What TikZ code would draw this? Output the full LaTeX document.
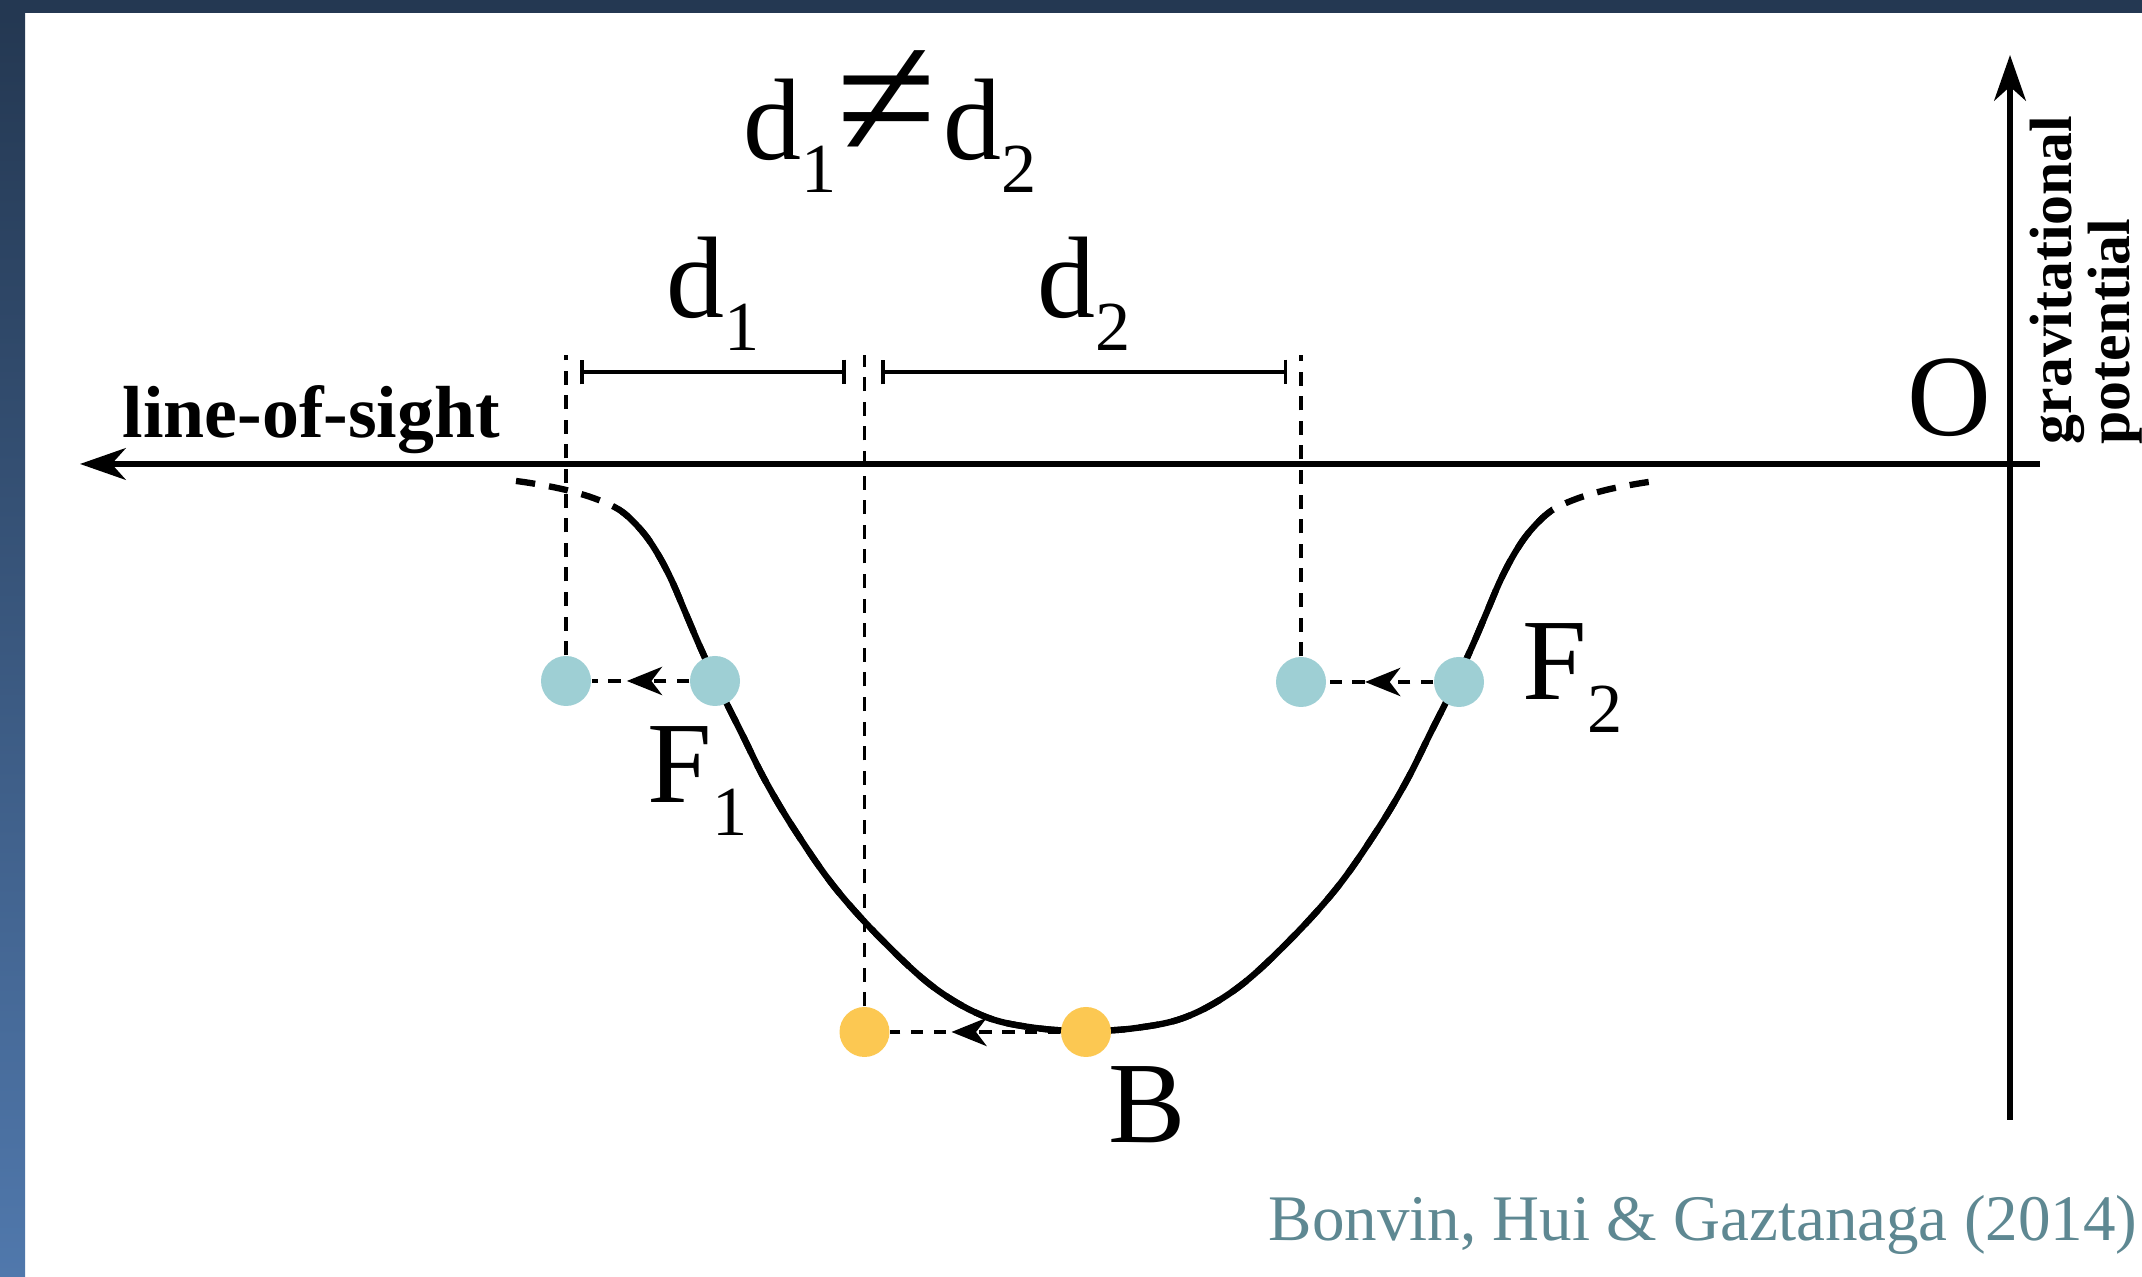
\documentclass[tikz,border=0pt]{standalone}
\usepackage{fontspec}
\setmainfont{Liberation Serif}
\usetikzlibrary{arrows.meta, positioning, decorations.markings}
\definecolor{wellteal}{HTML}{9ECFD4}
\definecolor{wellgold}{HTML}{FCC852}
\definecolor{citeteal}{HTML}{5E8892}
\definecolor{slidenavy}{HTML}{243852}
\definecolor{slideblue}{HTML}{5078AC}
\newcommand{\idx}[1]{\raisebox{-0.28em}{\fontsize{20}{20}\selectfont #1}}

\begin{document}
\begin{tikzpicture}[>=Stealth, font=\fontsize{33}{36}\selectfont,
    axis/.style={line width=1.7pt, -{Stealth[length=13pt, width=9pt, inset=4pt]}},
    well/.style={line width=1.8pt},
    ball/.style={circle, fill=#1, minimum size=0.5cm, inner sep=0pt},
    proj/.style={line width=1.1pt, dash pattern=on 4pt off 3pt},
    bar/.style={line width=1pt, {Bar[width=7pt]}-{Bar[width=7pt]}},
    drift/.style={line width=1.3pt, dash pattern=on 3.5pt off 3pt,
        postaction={decorate}, decoration={markings,
        mark=at position 0.64 with {\arrow{Stealth[length=10pt, width=8pt, inset=3pt]}}}}]
    \useasboundingbox (0,0) rectangle (21.42,12.77);
    \fill[white] (0,0) rectangle (21.42,12.77);
    \fill[slidenavy] (0,12.64) rectangle (21.42,12.77);
    \shade[top color=slidenavy, bottom color=slideblue] (0,0) rectangle (0.25,12.64);

    % axes
    \coordinate (losstart) at (20.40,8.13);
    \coordinate (losend)   at (0.80,8.13);
    \coordinate (potlow)   at (20.10,1.57);
    \coordinate (pottop)   at (20.10,12.22);
    \draw[axis] (losstart) -- (losend);
    \draw[axis] (potlow) -- (pottop);
    \node[anchor=base west, inner sep=0pt, font=\fontsize{21}{25}\selectfont\bfseries]
        (los) at (1.22,8.39) {line-of-sight};
    \node[rotate=90, anchor=north west, align=left, inner sep=0pt,
        font=\fontsize{17}{11.5}\selectfont\bfseries] (potlbl) at (20.29,8.32)
        {gravitational\\potential};
    \node[anchor=base, inner sep=0pt] (obs) at (19.49,8.41) {O};

    % potential well
    \begin{scope}[shift={(10.86,8.13)}]
        \path[save path=\wellpath] plot[smooth, tension=0.6] coordinates {
            (-5.70,-0.17) (-5.50,-0.20) (-5.20,-0.26) (-4.90,-0.35) (-4.65,-0.47)
            (-4.45,-0.66) (-4.30,-0.87) (-4.15,-1.15) (-4.00,-1.50) (-3.85,-1.85)
            (-3.65,-2.28) (-3.45,-2.68) (-3.20,-3.18) (-2.90,-3.68) (-2.50,-4.25)
            (-2.00,-4.80) (-1.50,-5.25) (-1.00,-5.53) (-0.50,-5.64) (0,-5.67)
            (0.50,-5.64) (1.00,-5.53) (1.50,-5.25) (2.00,-4.80) (2.50,-4.25)
            (2.90,-3.68) (3.20,-3.18) (3.45,-2.68) (3.65,-2.28) (3.85,-1.85)
            (4.00,-1.50) (4.15,-1.15) (4.30,-0.87) (4.45,-0.66) (4.65,-0.47)
            (4.90,-0.35) (5.20,-0.26) (5.50,-0.20) (5.70,-0.17)};
    \end{scope}
    \draw[well, dash pattern=on 5.5pt off 4pt, use path=\wellpath];
    \begin{scope}
        \clip (6.20,1) rectangle (15.52,8.12);
        \draw[well, use path=\wellpath];
    \end{scope}

    % particles and their shifted positions
    \node[ball=wellteal] (F1)  at (7.15,5.96) {};
    \node[ball=wellteal] (F1p) at (5.66,5.96) {};
    \node[ball=wellteal] (F2)  at (14.59,5.95) {};
    \node[ball=wellteal] (F2p) at (13.01,5.95) {};
    \node[ball=wellgold] (B)   at (10.86,2.45) {};
    \node[ball=wellgold] (Bp)  at (8.645,2.45) {};
    \draw[drift] (F1) -- (F1p);
    \draw[drift] (F2) -- (F2p);
    \draw[drift] (B) -- (Bp);
    \node[anchor=base west, inner sep=0pt] (F1lbl) at (6.47,4.74) {F\idx{1}};
    \node[anchor=base west, inner sep=0pt] (F2lbl) at (15.22,5.77) {F\idx{2}};
    \node[anchor=base west, inner sep=0pt] (Blbl)  at (11.08,1.34) {B};

    % projections and distances
    \coordinate (t1) at (5.66,9.22);
    \coordinate (t2) at (8.645,9.22);
    \coordinate (t3) at (13.01,9.22);
    \draw[proj] (F1p) -- (t1);
    \draw[proj] (Bp) -- (t2);
    \draw[proj] (F2p) -- (t3);
    \coordinate (a1) at (5.80,9.05);
    \coordinate (a2) at (8.46,9.05);
    \coordinate (b1) at (8.81,9.05);
    \coordinate (b2) at (12.87,9.05);
    \draw[bar] (a1) -- node[midway, above=0.2cm, inner sep=0pt] (d1lbl) {d\idx{1}} (a2);
    \draw[bar] (b1) -- node[midway, above=0.2cm, inner sep=0pt] (d2lbl) {d\idx{2}} (b2);
    \node[anchor=base, inner sep=0pt] (neq) at (8.90,11.17)
        {d\idx{1}{\fontsize{52}{52}\selectfont ≠}\kern0.05em d\idx{2}};

    \node[anchor=base east, inner sep=0pt, text=citeteal,
        font=\fontsize{18.5}{22}\selectfont] (cite) at (21.38,0.36)
        {Bonvin, Hui \& Gaztanaga (2014)};
\end{tikzpicture}
\end{document}
